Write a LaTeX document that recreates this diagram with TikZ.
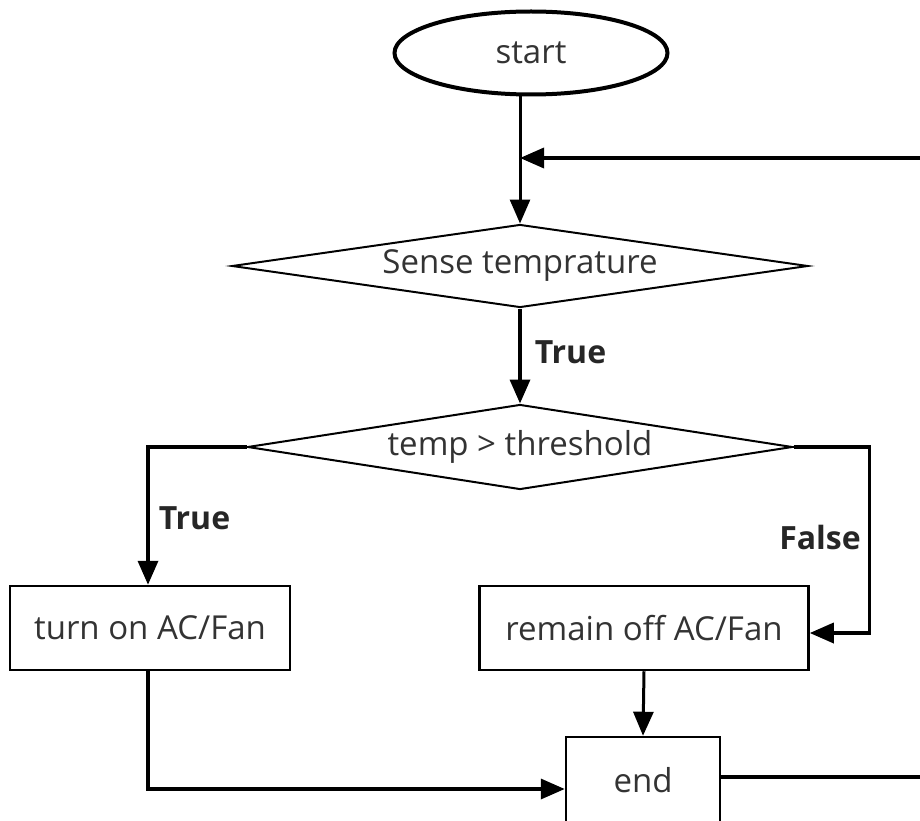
\documentclass[tikz,border=0pt]{standalone}
\usepackage{fontspec}
\setmainfont{Open Sans}
\usetikzlibrary{shapes.geometric,arrows.meta,calc}
\definecolor{txt}{HTML}{333333}
\begin{document}
\begin{tikzpicture}[x=1pt,y=-1pt,
  every node/.style={font=\fontsize{33}{40}\selectfont, text=txt},
  startbox/.style={ellipse, draw=black, line width=4pt, minimum width=273pt, minimum height=83pt, inner sep=0pt},
  decbox/.style={diamond, draw=black, line width=2pt, shape aspect=7, inner sep=0pt},
  procbox/.style={rectangle, draw=black, line width=2.5pt, inner sep=0pt},
  conn/.style={draw=black, line width=3.5pt},
  arr/.style={conn, -{Triangle[length=24pt,width=20pt]}},
  lbl/.style={font=\fontsize{32}{38}\selectfont\bfseries, text=black!85, inner sep=2pt}
]
\fill[white] (0,0) rectangle (920,821);
\useasboundingbox (0,0) rectangle (920,821);

\node[startbox] (start) at (531,53) {start};
\node[decbox, minimum width=576pt, minimum height=83pt] (d1) at (520,266) {Sense temprature};
\node[decbox, minimum width=545pt, minimum height=85pt] (d2) at (520,447) {temp > threshold};
\node[procbox, minimum width=280pt, minimum height=84pt] (b1) at (150,628) {turn on AC/Fan};
\node[procbox, minimum width=329pt, minimum height=84pt] (b2) at (644,628) {remain off AC/Fan};
\node[procbox, minimum width=154pt, minimum height=86pt] (e) at (643,780) {end};

\coordinate (rtop) at (920,158);

% start -> sense
\draw[arr, line width=3pt] (start.south -| d1.north) -- (d1.north);
% loop back from right edge
\draw[arr] (rtop) -- (rtop -| d1.north);
% sense -> threshold
\draw[arr] (d1.south) -- node[lbl, anchor=west, pos=0.46, xshift=11pt] {True} (d2.north);
% threshold -> turn on
\draw[arr] (d2.west) -| node[lbl, anchor=west, pos=0.757, xshift=7pt] {True} ($(b1.north)+(-2,0)$);
% threshold -> remain off
\draw[arr] (d2.east) -- ++(76,0) |- node[lbl, anchor=east, pos=0.243, xshift=-5pt] {False} ($(b2.east)+(0,5)$);
% remain off -> end
\draw[arr, line width=3pt] (b2.south) -- (e.north);
% turn on -> end
\draw[arr] ($(b1.south)+(-2,0)$) |- ($(e.west)+(0,9)$);
% end -> right edge
\draw[conn] ($(e.east)+(0,-3)$) -- ($(e.east -| rtop)+(0,-3)$);
\end{tikzpicture}
\end{document}
